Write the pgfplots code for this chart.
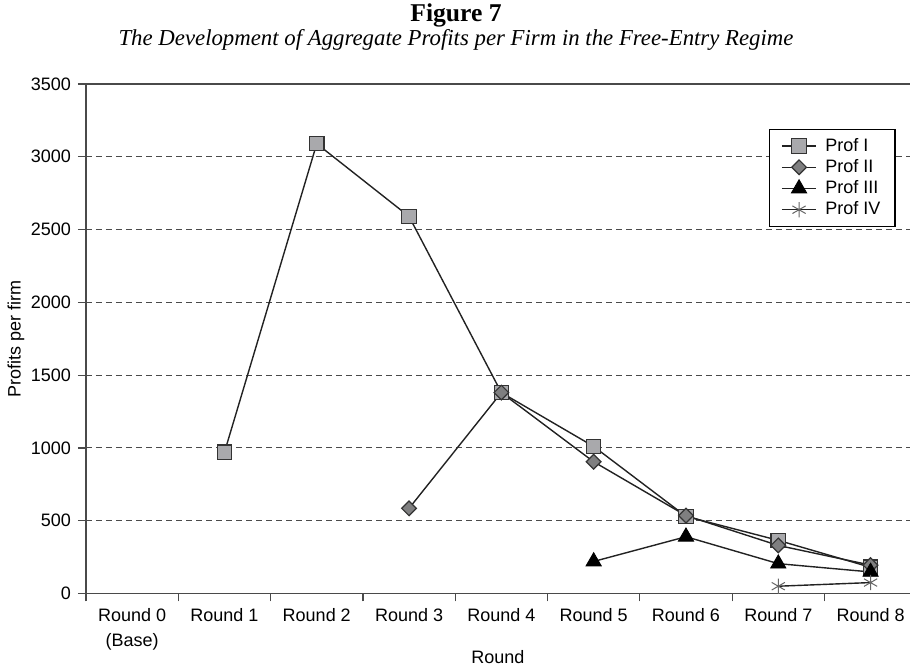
\documentclass[border=0pt]{standalone}
\usepackage{pgfplots}
\pgfplotsset{compat=1.18}
\usepackage{fontspec}
\setmainfont{Liberation Sans}
\newfontfamily\timesf{Liberation Serif}
\definecolor{axgray}{HTML}{4A4A4A}
\definecolor{sqfill}{HTML}{A9A9AC}
\definecolor{dmfill}{HTML}{7F7F80}
\definecolor{lnc}{HTML}{222222}
\begin{document}
\begin{tikzpicture}
\path[use as bounding box] (0,0) rectangle (455pt,333.5pt);
\node[font=\timesf\bfseries\fontsize{12.8}{13}\selectfont] at (228pt,326pt) {Figure 7};
\node[font=\timesf\itshape\fontsize{11.4}{12}\selectfont] at (228pt,313.5pt) {The Development of Aggregate Profits per Firm in the Free-Entry Regime};
\begin{axis}[
  at={(43pt,36.75pt)}, anchor=south west,
  scale only axis, width=412pt, height=254.75pt,
  xmin=-0.5, xmax=8.427, ymin=0, ymax=3500,
  axis x line*=bottom, axis y line*=left,
  axis line style={axgray, line width=0.6pt},
  xtick={0,...,8},
  xticklabels={{Round 0\\(Base)},Round 1,Round 2,Round 3,Round 4,Round 5,Round 6,Round 7,Round 8},
  xticklabel style={align=center, font=\fontsize{9}{12.5}\selectfont},
  major x tick style={draw=none},
  minor xtick={-0.5,0.5,...,7.5},
  minor x tick style={axgray, line width=0.6pt},
  minor tick length=4pt,
  major tick length=4pt,
  tick align=outside,
  ytick={0,500,...,3500},
  yticklabel style={font=\fontsize{9}{11}\selectfont},
  major y tick style={axgray, line width=0.6pt},
  /pgf/number format/assume math mode=true,
  /pgf/number format/1000 sep={},
  ymajorgrids,
  major grid style={axgray, dash pattern=on 3pt off 2pt, line width=0.5pt},
  xlabel={Round}, ylabel={Profits per firm},
  label style={font=\fontsize{9}{11}\selectfont},
  xlabel style={at={(axis description cs:0.5,0)}, anchor=center, yshift=-32pt},
  ylabel style={at={(axis description cs:-0.085,0.5)}, anchor=center},
  legend style={at={(0.8285,0.912)}, anchor=north west, draw=black, line width=0.6pt,
    fill=white, font=\fontsize{9}{10}\selectfont, row sep=0pt,
    nodes={inner sep=1.3pt}, inner xsep=6pt, inner ysep=3pt,
    /tikz/every odd column/.append style={column sep=3pt}},
  legend cell align=left,
  clip=false,
]
\draw[axgray, line width=0.6pt] (rel axis cs:0,1) -- (rel axis cs:1,1);
\addplot[lnc, line width=0.7pt, mark=square*, mark size=3.6pt,
  mark options={fill=sqfill, draw=black!80, line width=0.6pt}]
  coordinates {(1,970) (2,3090) (3,2590) (4,1380) (5,1010) (6,530) (7,365) (8,180)};
\addlegendentry{Prof I}
\addplot[lnc, line width=0.7pt, mark=square*, mark size=2.6pt,
  mark options={fill=dmfill, draw=black!80, line width=0.6pt, rotate=45}]
  coordinates {(3,585) (4,1380) (5,905) (6,535) (7,330) (8,195)};
\addlegendentry{Prof II}
\addplot[lnc, line width=0.7pt, mark=triangle*, mark size=4.4pt,
  mark options={fill=black, draw=black, line width=0.4pt}]
  coordinates {(5,220) (6,390) (7,205) (8,148)};
\addlegendentry{Prof III}
\addplot[lnc, line width=0.7pt, mark=asterisk, mark size=3.8pt,
  mark options={draw=black!60, line width=0.5pt}]
  coordinates {(7,50) (8,75)};
\addlegendentry{Prof IV}
\end{axis}
\end{tikzpicture}
\end{document}
